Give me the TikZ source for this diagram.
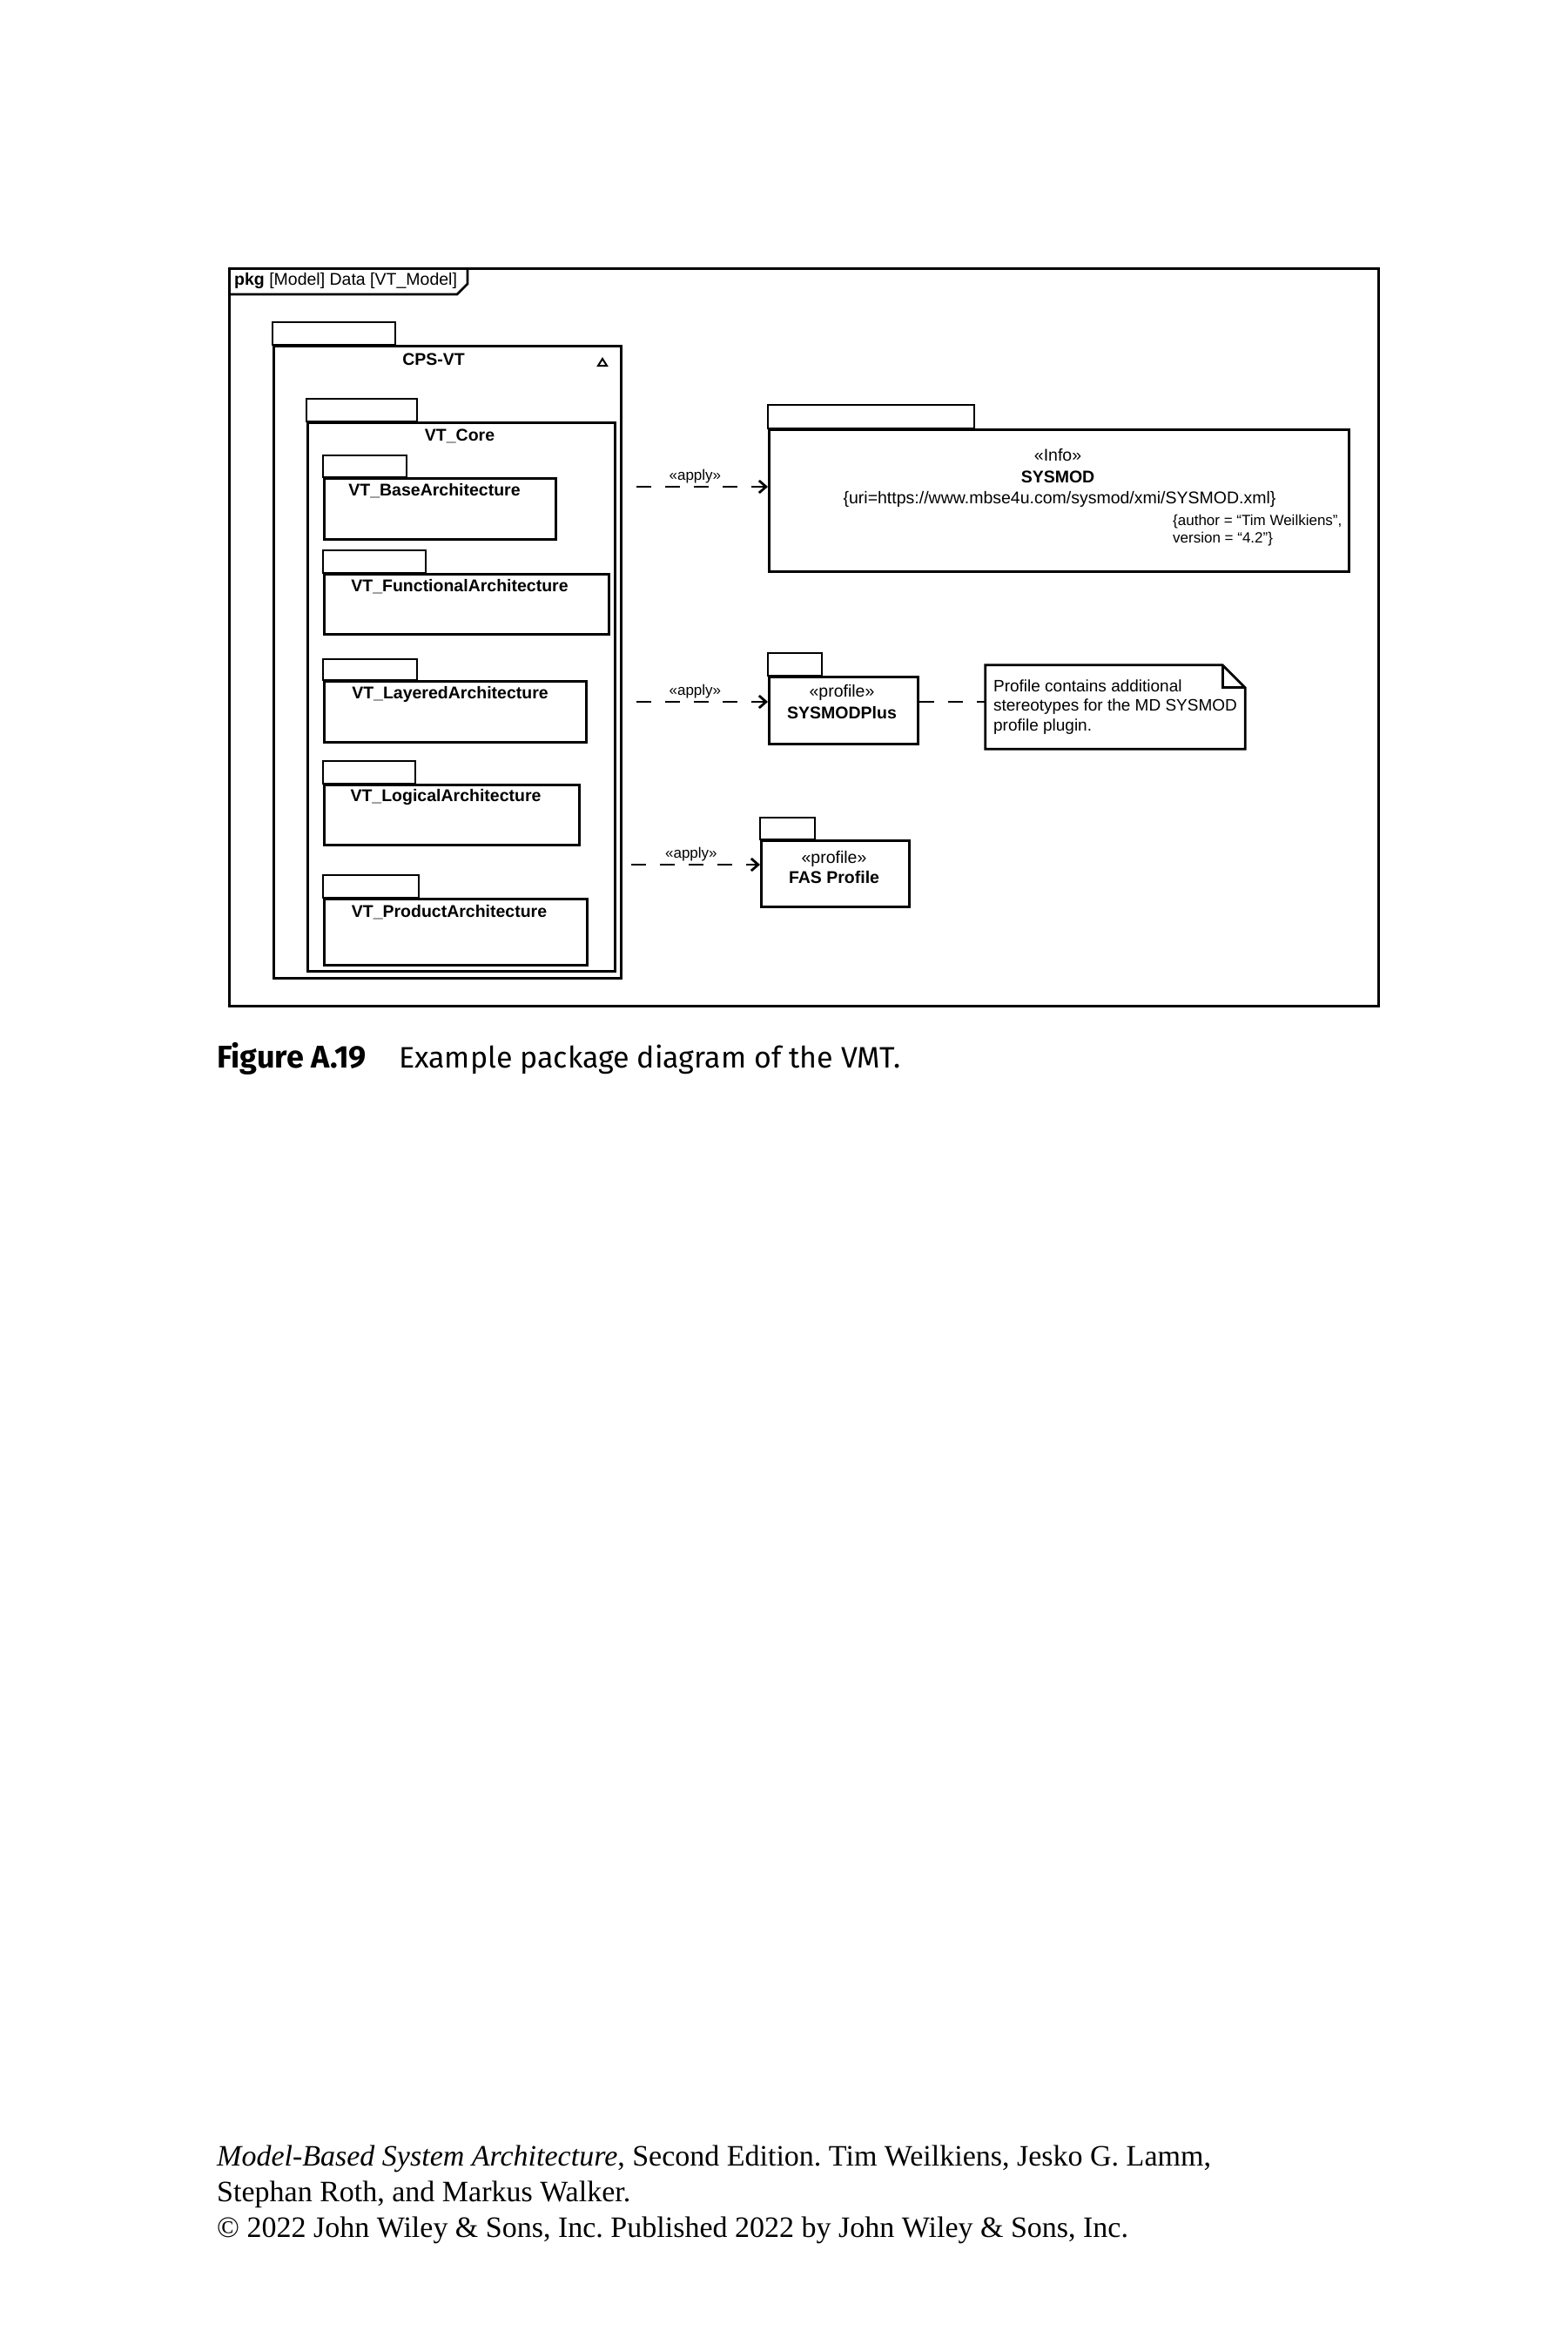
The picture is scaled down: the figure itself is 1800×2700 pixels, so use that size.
\documentclass[tikz,border=0pt]{standalone}
\usepackage{fontspec}
\setmainfont{Liberation Sans}
\newfontfamily\capfont{Fira Sans}
\newfontfamily\footfont{Liberation Serif}
\usetikzlibrary{arrows.meta}
\frenchspacing

\tikzset{
  pkgline/.style={draw, line width=2.8pt},
  pkg/.style={pkgline, rectangle, anchor=north west, inner sep=0pt},
  pkgname/.style={font=\fontsize{19.5}{22}\selectfont\bfseries, inner sep=0pt},
  stereo/.style={font=\fontsize{19.5}{22}\selectfont, inner sep=0pt},
  apply/.style={line width=2.8pt, dash pattern=on 17pt off 16pt,
    -{Straight Barb[length=8pt,width=14pt]}},
  applylabel/.style={font=\fontsize{17}{19}\selectfont, above, inner sep=3pt, midway},
  footline/.style={anchor=base west, inner sep=0pt, font=\footfont\fontsize{34}{40}\selectfont}
}

\begin{document}
\begin{tikzpicture}[x=1pt,y=-1pt]
  \useasboundingbox[fill=white] (0,0) rectangle (1800,2700);

  % frame
  \node[pkg, minimum width=1320pt, minimum height=847pt] (frm) at (262,307) {};
  \draw[pkgline] (262,338) -- (525,338) -- (537,326) -- (537,307);
  \node[anchor=west, inner sep=0pt, font=\fontsize{19.5}{22}\selectfont] (hdr) at (269,322)
    {\textbf{pkg} [Model] Data [VT\_Model]};

  % packages
  \node[pkg, minimum width=399pt, minimum height=726pt] (cps) at (313,396) {};
  \node[pkg, minimum width=353pt, minimum height=630pt] (core) at (352,484) {};
  \node[pkg, minimum width=266pt, minimum height=70pt] (base) at (371,548) {};
  \node[pkg, minimum width=327pt, minimum height=69pt] (func) at (371,658) {};
  \node[pkg, minimum width=301pt, minimum height=70pt] (layer) at (371,781) {};
  \node[pkg, minimum width=293pt, minimum height=69pt] (logic) at (371,900) {};
  \node[pkg, minimum width=302pt, minimum height=76pt] (prod) at (371,1031) {};
  \node[pkg, minimum width=666pt, minimum height=163pt] (sysmod) at (882,492) {};
  \node[pkg, minimum width=171pt, minimum height=77pt] (plus) at (882,776) {};
  \node[pkg, minimum width=170pt, minimum height=76pt] (fas) at (873,964) {};

  \draw[pkgline] (cps.north west) rectangle ++(141,-26);
  \draw[pkgline] (core.north west) rectangle ++(127,-26);
  \draw[pkgline] (base.north west) rectangle ++(96,-25);
  \draw[pkgline] (func.north west) rectangle ++(118,-26);
  \draw[pkgline] (layer.north west) rectangle ++(108,-24);
  \draw[pkgline] (logic.north west) rectangle ++(106,-26);
  \draw[pkgline] (prod.north west) rectangle ++(110,-26);
  \draw[pkgline] (sysmod.north west) rectangle ++(237,-27);
  \draw[pkgline] (plus.north west) rectangle ++(62,-26);
  \draw[pkgline] (fas.north west) rectangle ++(63,-25);

  \node[pkgname] (cps-l) at (498,413) {CPS-VT};
  \draw[line width=2pt] (687,420) -- (697,420) -- (692,412) -- cycle;
  \node[pkgname] (core-l) at (528,501) {VT\_Core};
  \node[pkgname] (base-l) at (499,564) {VT\_BaseArchitecture};
  \node[pkgname] (func-l) at (528,674) {VT\_FunctionalArchitecture};
  \node[pkgname] (layer-l) at (517,797) {VT\_LayeredArchitecture};
  \node[pkgname] (logic-l) at (512,915) {VT\_LogicalArchitecture};
  \node[pkgname] (prod-l) at (516,1048) {VT\_ProductArchitecture};

  \node[stereo] (sysmod-s) at (1215,523) {«Info»};
  \node[pkgname] (sysmod-l) at (1215,548) {SYSMOD};
  \node[stereo] (sysmod-u) at (1217,573) {\{uri=https://www.mbse4u.com/sysmod/xmi/SYSMOD.xml\}};
  \node[anchor=north west, align=left, inner sep=0pt, font=\fontsize{17}{20}\selectfont]
    (sysmod-t) at (1347,591) {\{author = “Tim Weilkiens”,\\version = “4.2”\}};

  \node[stereo] (plus-s) at (967,795) {«profile»};
  \node[pkgname] (plus-l) at (967,819) {SYSMODPlus};
  \node[stereo] (fas-s) at (958,986) {«profile»};
  \node[pkgname] (fas-l) at (958,1008) {FAS Profile};

  % note
  \node[minimum width=298pt, minimum height=96pt, align=left,
    inner sep=0pt, font=\fontsize{19}{22.5}\selectfont] (note) at (1281,812)
    {Profile contains additional\\stereotypes for the MD SYSMOD\\profile plugin.};
  \draw[pkgline] (note.north west) -- ([xshift=-26pt]note.north east)
    -- ([yshift=-26pt]note.north east) -- (note.south east) -- (note.south west) -- cycle;
  \draw[pkgline] ([xshift=-26pt]note.north east) |- ([yshift=-26pt]note.north east);

  % apply
  \coordinate (a1) at (cps.east |- 0,559);
  \coordinate (a2) at (cps.east |- 0,806);
  \coordinate (a3) at (cps.east |- 0,993);
  \draw[apply, shorten <=16pt] (a1) -- node[applylabel]{«apply»} (a1 -| sysmod.west);
  \draw[apply, shorten <=16pt] (a2) -- node[applylabel]{«apply»} (a2 -| plus.west);
  \draw[apply, shorten <=10pt] (a3) -- node[applylabel]{«apply»} (a3 -| fas.west);
  \draw[pkgline, dash pattern=on 17pt off 16pt] (plus.east |- a2) -- (note.west |- a2);

  % caption
  \node[anchor=base west, inner sep=0pt, font=\capfont\fontsize{36}{40}\selectfont\bfseries]
    (capnum) at (249,1226) {Figure A.19};
  \node[anchor=base west, inner sep=0pt, font=\capfont\fontsize{34}{40}\selectfont]
    (captxt) at (458,1226) {Example package diagram of the VMT.};

  % footer
  \node[footline] (ft1) at (249,2487)
    {\textit{Model-Based System Architecture}, Second Edition. Tim Weilkiens, Jesko G. Lamm,};
  \node[footline] (ft2) at (249,2528) {Stephan Roth, and Markus Walker.};
  \node[footline] (ft3) at (249,2569)
    {© 2022 John Wiley \& Sons, Inc. Published 2022 by John Wiley \& Sons, Inc.};
\end{tikzpicture}
\end{document}
